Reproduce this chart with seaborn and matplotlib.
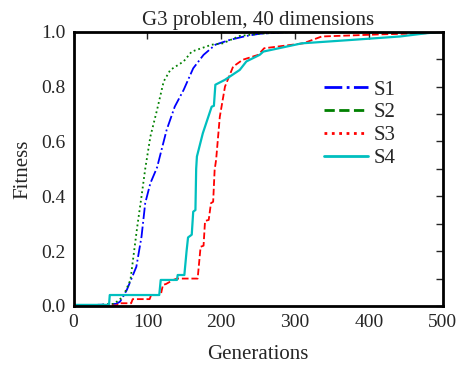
import numpy as np
import pandas as pd
import matplotlib
matplotlib.use("Agg")
import matplotlib.pyplot as plt
import seaborn as sns
from matplotlib.lines import Line2D

# =========================
# data
# =========================
s1_gen = [0, 40, 58, 63, 72, 85, 92, 97, 104, 113, 126, 137, 149, 162, 176, 192, 212, 234, 252, 300, 500]
s1_fit = [0.0, 0.005, 0.008, 0.016, 0.058, 0.143, 0.253, 0.375, 0.448, 0.505, 0.642, 0.727, 0.788, 0.867, 0.916, 0.953, 0.971, 0.985, 0.993, 1.0, 1.0]

s2_gen = [0, 40, 55, 67, 77, 86, 92, 97, 104, 113, 122, 131, 149, 160, 187, 202, 225, 252, 300, 500]
s2_fit = [0.0, 0.005, 0.008, 0.034, 0.095, 0.285, 0.400, 0.500, 0.618, 0.715, 0.819, 0.861, 0.892, 0.928, 0.953, 0.958, 0.985, 0.993, 1.0, 1.0]

s3_gen = [0, 58, 62, 78, 80, 103, 105, 118, 121, 125, 135, 140, 168, 172, 176, 178, 183, 186, 189, 191,
          193, 198, 205, 216, 229, 250, 252, 258, 311, 336, 419, 480, 500]
s3_fit = [0.0, 0.002, 0.01, 0.01, 0.025, 0.025, 0.04, 0.04, 0.077, 0.08, 0.095, 0.10, 0.10, 0.216, 0.22, 0.31, 0.314, 0.375, 0.38, 0.496,
          0.533, 0.69, 0.80, 0.873, 0.898, 0.916, 0.922, 0.94, 0.958, 0.983, 0.991, 0.995, 1.0]

s4_gen = [0, 48, 49, 116, 118, 140, 141, 150, 153, 155, 160, 162, 165, 166, 167, 175, 187, 190, 192, 205,
          225, 234, 252, 257, 309, 374, 442, 478, 500]
s4_fit = [0.004, 0.004, 0.04, 0.04, 0.095, 0.095, 0.113, 0.113, 0.20, 0.25, 0.26, 0.344, 0.35, 0.50, 0.545, 0.63, 0.727, 0.73, 0.807, 0.825,
          0.861, 0.892, 0.916, 0.928, 0.958, 0.97, 0.983, 0.995, 1.0]

series_names = ["S1", "S2", "S3", "S4"]
series_colors = ["#0000ff", "#008000", "#ff0000", "#00bfbf"]

df = pd.concat([
    pd.DataFrame({"gen": s1_gen, "fit": s1_fit, "serie": "S1"}),
    pd.DataFrame({"gen": s2_gen, "fit": s2_fit, "serie": "S2"}),
    pd.DataFrame({"gen": s3_gen, "fit": s3_fit, "serie": "S3"}),
    pd.DataFrame({"gen": s4_gen, "fit": s4_fit, "serie": "S4"}),
])

# =========================
# style
# =========================
sns.set_style("white")
plt.rcParams["font.family"] = ["Liberation Serif", "DejaVu Serif"]

fig = plt.figure(figsize=(4.57, 3.70), dpi=100)
ax = fig.add_axes([0.161, 0.173, 0.808, 0.741])

estilos_linha = {"S1": "-.", "S2": ":", "S3": "--", "S4": "-"}

for nome, cor in zip(series_names, series_colors):
    sns.lineplot(
        data=df[df["serie"] == nome],
        x="gen",
        y="fit",
        ax=ax,
        color=cor,
        linestyle=estilos_linha[nome],
        linewidth=1.6 if nome == "S4" else 1.3,
        estimator=None,
        sort=False,
    )

ax.set_xlim(0, 500)
ax.set_ylim(0, 1.0)
ax.set_xticks([0, 100, 200, 300, 400, 500])
ax.set_yticks([0.0, 0.2, 0.4, 0.6, 0.8, 1.0])
ax.set_yticklabels(["0.0", "0.2", "0.4", "0.6", "0.8", "1.0"])
ax.set_yticks(np.arange(0.1, 1.0, 0.2), minor=True)
ax.tick_params(which="both", direction="in", top=True, right=True,
               length=5, width=1, labelsize=14, pad=6)
for lado in ax.spines.values():
    lado.set_linewidth(2)
    lado.set_color("black")

ax.set_title("G3 problem, 40 dimensions", fontsize=15, pad=5)
ax.set_xlabel("Generations", fontsize=15, labelpad=10)
ax.set_ylabel("Fitness", fontsize=15, labelpad=6)

# legend with the line styles of the reference
handles = [
    Line2D([0], [0], color="#0000ff", linestyle="-.", linewidth=2),
    Line2D([0], [0], color="#008000", linestyle="--", linewidth=2),
    Line2D([0], [0], color="#ff0000", linestyle=":", linewidth=2),
    Line2D([0], [0], color="#00bfbf", linestyle="-", linewidth=2),
]
ax.legend(handles, series_names, loc="upper left", bbox_to_anchor=(0.627, 0.892),
          frameon=False, fontsize=15, handlelength=2.1, labelspacing=0.15,
          handletextpad=0.3)

plt.savefig("out.png", dpi=100)
